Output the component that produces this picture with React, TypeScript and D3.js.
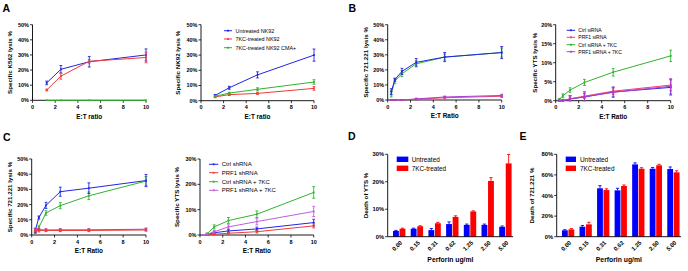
import React from "react";
import * as d3 from "d3";

// ---------- DATA ----------
const xA = [1.25, 2.5, 5, 10];
const xBC = [0.3125, 0.625, 1.25, 2.5, 5, 10];

const a1Untreated = [11.5, 20.5, 25.5, 30];
const a1UntreatedErr = [1.2, 2.5, 3.5, 4];
const a1Kc = [6.8, 16, 25.8, 28.3];
const a1KcErr = [0.6, 2, 1.2, 3.5];
const a1Cma = [0, 0, 0, 0];
const a1CmaErr = [0, 0, 0, 0];

const a2Untreated = [3.5, 8.5, 17, 30];
const a2UntreatedErr = [0.6, 1, 2, 4];
const a2Kc = [2.5, 4, 4.8, 8.1];
const a2KcErr = [0.5, 0.6, 0.7, 1.2];
const a2Cma = [3, 5, 7.5, 12.3];
const a2CmaErr = [0.5, 0.6, 1, 1.5];

const b1Ctrl = [5.5, 13.5, 19, 25, 28.5, 31.5];
const b1CtrlErr = [2, 1, 2, 2.5, 3, 4];
const b1Prf = [0, 0, 0, 0.5, 1.5, 2.5];
const b1PrfErr = [0.2, 0.2, 0.3, 0.5, 0.8, 0.8];
const b1Ctrl7 = [4, 12.5, 17.5, 24, 28.5, 31.5];
const b1Ctrl7Err = [2, 1.5, 2, 2, 2, 3];
const b1Prf7 = [0, 0, 0, 0.7, 2, 3];
const b1Prf7Err = [0.2, 0.2, 0.3, 0.5, 0.6, 0.8];

const b2Ctrl = [0, 0, 0.5, 1, 2.3, 3.5];
const b2CtrlErr = [0.2, 0.3, 0.8, 1, 1.3, 2];
const b2Prf = [0, 0, 0.5, 1.2, 2.5, 4.1];
const b2PrfErr = [0.2, 0.3, 0.5, 0.6, 0.8, 1.5];
const b2Ctrl7 = [0.3, 1.3, 2.8, 4.8, 7.5, 11.8];
const b2Ctrl7Err = [0.3, 0.5, 0.6, 0.8, 1, 1.5];
const b2Prf7 = [0, 0, 0.4, 1, 2.2, 3.8];
const b2Prf7Err = [0.2, 0.3, 1, 1.4, 1.3, 2];

const c1Ctrl = [3, 11.5, 19.5, 28.5, 30.8, 35.8];
const c1CtrlErr = [1.5, 1, 2, 3, 3.5, 4];
const c1Prf = [3, 3, 3, 3, 3, 3.3];
const c1PrfErr = [1, 1, 0.8, 0.8, 0.8, 0.8];
const c1Ctrl7 = [1.5, 5, 14.5, 19.3, 25.8, 35.5];
const c1Ctrl7Err = [0.5, 1, 1.5, 2, 2.5, 3];
const c1Prf7 = [3.2, 3.5, 3.3, 3.4, 3.4, 3.8];
const c1Prf7Err = [0.8, 0.8, 0.8, 0.8, 0.8, 0.8];

const c2Ctrl = [0, 0.2, 0.9, 1.6, 2.4, 4.9];
const c2CtrlErr = [0.1, 0.2, 0.4, 0.6, 0.7, 1.3];
const c2Prf = [0, 0, 0.3, 0.7, 1.3, 3.6];
const c2PrfErr = [0.1, 0.1, 0.2, 0.4, 0.5, 0.8];
const c2Ctrl7 = [0, 0.5, 3.2, 5.7, 8.2, 16.8];
const c2Ctrl7Err = [0.2, 0.3, 0.8, 1.2, 1.3, 2.3];
const c2Prf7 = [0, 0.3, 1.3, 3.2, 5.3, 9.3];
const c2Prf7Err = [0.1, 0.3, 0.5, 0.8, 1.3, 2];

const perforin = ["0.00", "0.15", "0.31", "0.62", "1.25", "2.50", "5.00"];
const dUntreated = [2.1, 2.9, 2.4, 4.6, 4.3, 4.3, 3.6];
const dUntreatedErr = [0.2, 0.2, 0.6, 0.8, 0.3, 0.3, 0.3];
const d7kc = [2.9, 3.8, 4.9, 7.2, 9.2, 20.3, 26.7];
const d7kcErr = [0.2, 0.2, 0.3, 0.4, 0.2, 1.2, 3.2];
const eUntreated = [6.2, 9.7, 47, 45, 70.2, 66, 65.7];
const eUntreatedErr = [0.6, 1.2, 2.5, 2, 1.5, 1.2, 2];
const e7kc = [7.1, 12, 45.3, 49.2, 66, 69.3, 62.5];
const e7kcErr = [0.8, 2, 1.2, 1, 1, 1, 1.5];

const xTicks = [0, 2, 4, 6, 8, 10];

const BLUE = "#2424e6";
const RED = "#f03a3a";
const GREEN = "#2fb52f";
const PURPLE = "#a83ed6";
const PINK = "#f0406e";
const FONT = "Liberation Sans, Arial, sans-serif";

type Series = { name: string; color: string; y: number[]; e: number[] };

type LineProps = {
  x0: number; x1: number; yTop: number; yBot: number;
  yMax: number; yStep: number; xs: number[]; series: Series[];
  yTitle: string; yTitleX: number; xTitle: string;
  legend?: { lx: number; lw: number; tx: number; rows: number[]; fs: number };
};

function LinePanel(p: LineProps) {
  const x = d3.scaleLinear().domain([0, 10]).range([p.x0, p.x1]);
  const y = d3.scaleLinear().domain([0, p.yMax]).range([p.yBot, p.yTop]);
  const yTicks = d3.range(0, p.yMax + 0.001, p.yStep);
  const cap = 1.4;
  return (
    <g>
      <line x1={p.x0} x2={p.x0} y1={p.yTop} y2={p.yBot} stroke="#000" strokeWidth={0.9} />
      <line x1={p.x0} x2={p.x1} y1={p.yBot} y2={p.yBot} stroke="#000" strokeWidth={0.9} />
      {yTicks.map((t) => (
        <g key={"y" + t}>
          <line x1={p.x0 - 2.5} x2={p.x0} y1={y(t)} y2={y(t)} stroke="#000" strokeWidth={0.8} />
          <text x={p.x0 - 3.5} y={y(t) + 1.9} fontSize={5.5} fontWeight="bold" textAnchor="end" fontFamily={FONT}>
            {t + "%"}
          </text>
        </g>
      ))}
      {xTicks.map((t) => (
        <g key={"x" + t}>
          <line x1={x(t)} x2={x(t)} y1={p.yBot} y2={p.yBot + 2.5} stroke="#000" strokeWidth={0.8} />
          <text x={x(t)} y={p.yBot + 8.6} fontSize={5.5} fontWeight="bold" textAnchor="middle" fontFamily={FONT}>
            {t}
          </text>
        </g>
      ))}
      <text
        transform={`translate(${p.yTitleX},${(p.yTop + p.yBot) / 2}) rotate(-90)`}
        fontSize={6.2} fontWeight="bold" textAnchor="middle" fontFamily={FONT}
      >
        {p.yTitle}
      </text>
      <text x={(p.x0 + p.x1) / 2} y={p.yBot + 18.3} fontSize={6.4} fontWeight="bold" textAnchor="middle" fontFamily={FONT}>
        {p.xTitle}
      </text>
      {p.series.map((s, si) => {
        const line = d3
          .line<number>()
          .x((_, i) => x(p.xs[i]))
          .y((d) => y(d));
        return (
          <g key={"s" + si}>
            <path d={line(s.y) || ""} fill="none" stroke={s.color} strokeWidth={1} />
            {s.y.map((v, i) => {
              const cx = x(p.xs[i]);
              const hi = y(v + s.e[i]);
              const lo = y(Math.max(0, v - s.e[i]));
              return (
                <g key={i}>
                  {s.e[i] > 0 && (
                    <>
                      <line x1={cx} x2={cx} y1={hi} y2={lo} stroke={s.color} strokeWidth={0.9} />
                      <line x1={cx - cap} x2={cx + cap} y1={hi} y2={hi} stroke={s.color} strokeWidth={0.9} />
                      <line x1={cx - cap} x2={cx + cap} y1={lo} y2={lo} stroke={s.color} strokeWidth={0.9} />
                    </>
                  )}
                  <rect x={cx - 0.9} y={y(v) - 0.9} width={1.8} height={1.8} fill={s.color} />
                </g>
              );
            })}
          </g>
        );
      })}
      {p.legend &&
        p.series.map((s, si) => {
          const L = p.legend!;
          const cy = L.rows[si];
          return (
            <g key={"l" + si}>
              <line x1={L.lx} x2={L.lx + L.lw} y1={cy} y2={cy} stroke={s.color} strokeWidth={1} />
              <rect x={L.lx + L.lw / 2 - 0.9} y={cy - 0.9} width={1.8} height={1.8} fill={s.color} />
              <text x={L.tx} y={cy + L.fs * 0.36} fontSize={L.fs} fontFamily={FONT}>
                {s.name}
              </text>
            </g>
          );
        })}
    </g>
  );
}

type BarProps = {
  x0: number; yTop: number; yBot: number; yMax: number; yStep: number;
  step: number; a: number[]; ae: number[]; b: number[]; be: number[];
  yTitle: string; yTitleX: number;
  legend: { sx: number; sw: number; tx: number; rows: number[] };
};

function BarPanel(p: BarProps) {
  const pi = 0.3;
  const po = 0.3;
  const n = perforin.length;
  const x = d3
    .scaleBand<string>()
    .domain(perforin)
    .range([p.x0, p.x0 + p.step * (n - pi + 2 * po)])
    .paddingInner(pi)
    .paddingOuter(po);
  const inner = d3.scaleBand<string>().domain(["a", "b"]).range([0, x.bandwidth()]).paddingInner(0.1);
  const y = d3.scaleLinear().domain([0, p.yMax]).range([p.yBot, p.yTop]);
  const yTicks = d3.range(0, p.yMax + 0.001, p.yStep);
  const xEnd = (x(perforin[n - 1]) || 0) + x.bandwidth() + 1.5;
  const groups = [
    { key: "a", vals: p.a, errs: p.ae, color: "#0000ff", name: "Untreated" },
    { key: "b", vals: p.b, errs: p.be, color: "#ff0000", name: "7KC-treated" },
  ];
  const cap = 1.6;
  return (
    <g>
      {groups.map((g) =>
        g.vals.map((v, i) => {
          const bx = (x(perforin[i]) || 0) + (inner(g.key) || 0);
          const bw = inner.bandwidth();
          const cx = bx + bw / 2;
          const top = y(v + g.errs[i]);
          return (
            <g key={g.key + i}>
              <line x1={cx} x2={cx} y1={y(v)} y2={top} stroke={g.color} strokeWidth={0.9} />
              <line x1={cx - cap} x2={cx + cap} y1={top} y2={top} stroke={g.color} strokeWidth={0.9} />
              <rect x={bx} y={y(v)} width={bw} height={p.yBot - y(v)} fill={g.color} />
            </g>
          );
        })
      )}
      <line x1={p.x0} x2={p.x0} y1={p.yTop} y2={p.yBot} stroke="#000" strokeWidth={0.9} />
      <line x1={p.x0} x2={xEnd} y1={p.yBot} y2={p.yBot} stroke="#000" strokeWidth={0.9} />
      {yTicks.map((t) => (
        <g key={"y" + t}>
          <line x1={p.x0 - 2.5} x2={p.x0} y1={y(t)} y2={y(t)} stroke="#000" strokeWidth={0.8} />
          <text x={p.x0 - 3.5} y={y(t) + 2} fontSize={5.8} fontWeight="bold" textAnchor="end" fontFamily={FONT}>
            {t + "%"}
          </text>
        </g>
      ))}
      {perforin.map((c) => {
        const cx = (x(c) || 0) + x.bandwidth() / 2;
        return (
          <text
            key={c}
            transform={`translate(${cx + 2},${p.yBot + 5}) rotate(-45)`}
            fontSize={5.9} fontWeight="bold" textAnchor="end" fontFamily={FONT} dy="0.35em"
          >
            {c}
          </text>
        );
      })}
      <text
        transform={`translate(${p.yTitleX},${(p.yTop + p.yBot) / 2}) rotate(-90)`}
        fontSize={6.2} fontWeight="bold" textAnchor="middle" fontFamily={FONT}
      >
        {p.yTitle}
      </text>
      <text x={(p.x0 + xEnd) / 2} y={p.yBot + 25.5} fontSize={6.8} fontWeight="bold" textAnchor="middle" fontFamily={FONT}>
        Perforin ug/ml
      </text>
      {groups.map((g, gi) => (
        <g key={"lg" + gi}>
          <rect x={p.legend.sx} y={p.legend.rows[gi] - 2.7} width={p.legend.sw} height={5.4} fill={g.color} />
          <text x={p.legend.tx} y={p.legend.rows[gi] + 2.3} fontSize={6.4} fontFamily={FONT}>
            {g.name}
          </text>
        </g>
      ))}
    </g>
  );
}

function Letter({ x, y, t }: { x: number; y: number; t: string }) {
  return (
    <text x={x} y={y} fontSize={10.5} fontWeight="bold" fontFamily={FONT}>
      {t}
    </text>
  );
}

export default function App() {
  return (
    <svg width={688} height={271} style={{ position: "absolute", left: 0, top: 0, background: "#fff" }}>
      <rect width={688} height={271} fill="#fff" />
      <Letter x={2.5} y={11.8} t="A" />
      <Letter x={348.5} y={11.8} t="B" />
      <Letter x={3} y={141} t="C" />
      <Letter x={348} y={140} t="D" />
      <Letter x={519.5} y={140} t="E" />

      <LinePanel
        x0={32.5} x1={146} yTop={24.7} yBot={100.3} yMax={50} yStep={10} xs={xA}
        yTitle="Specific K562 lysis %" yTitleX={12} xTitle="E:T ratio"
        series={[
          { name: "Untreated NK92", color: BLUE, y: a1Untreated, e: a1UntreatedErr },
          { name: "7KC-treated NK92", color: RED, y: a1Kc, e: a1KcErr },
          { name: "7KC-treated NK92 CMA+", color: GREEN, y: a1Cma, e: a1CmaErr },
        ]}
      />
      <LinePanel
        x0={201} x1={314} yTop={24.7} yBot={100.7} yMax={50} yStep={10} xs={xA}
        yTitle="Specific NK92 lysis %" yTitleX={179.5} xTitle="E:T ratio"
        legend={{ lx: 224, lw: 8, tx: 235.5, rows: [30.7, 39, 47.7], fs: 5.4 }}
        series={[
          { name: "Untreated NK92", color: BLUE, y: a2Untreated, e: a2UntreatedErr },
          { name: "7KC-treated NK92", color: RED, y: a2Kc, e: a2KcErr },
          { name: "7KC-treated NK92 CMA+", color: GREEN, y: a2Cma, e: a2CmaErr },
        ]}
      />
      <LinePanel
        x0={387.7} x1={501.7} yTop={24.7} yBot={100} yMax={50} yStep={10} xs={xBC}
        yTitle="Specific 721.221 lysis %" yTitleX={367.5} xTitle="E:T Ratio"
        series={[
          { name: "PRF1 siRNA", color: PINK, y: b1Prf, e: b1PrfErr },
          { name: "PRF1 siRNA + 7KC", color: PURPLE, y: b1Prf7, e: b1Prf7Err },
          { name: "Ctrl siRNA + 7KC", color: GREEN, y: b1Ctrl7, e: b1Ctrl7Err },
          { name: "Ctrl siRNA", color: BLUE, y: b1Ctrl, e: b1CtrlErr },
        ]}
      />
      <LinePanel
        x0={555.7} x1={670.7} yTop={24.7} yBot={100.7} yMax={20} yStep={5} xs={xBC}
        yTitle="Specific YTS lysis %" yTitleX={536.5} xTitle="E:T Ratio"
        legend={{ lx: 566.7, lw: 8.5, tx: 578.3, rows: [30.3, 37.3, 44.7, 51.7], fs: 5 }}
        series={[
          { name: "Ctrl siRNA", color: BLUE, y: b2Ctrl, e: b2CtrlErr },
          { name: "PRF1 siRNA", color: PINK, y: b2Prf, e: b2PrfErr },
          { name: "Ctrl siRNA + 7KC", color: GREEN, y: b2Ctrl7, e: b2Ctrl7Err },
          { name: "PRF1 siRNA + 7KC", color: PURPLE, y: b2Prf7, e: b2Prf7Err },
        ]}
      />
      <LinePanel
        x0={31.7} x1={146} yTop={159} yBot={235} yMax={50} yStep={10} xs={xBC}
        yTitle="Specific 721.221 lysis %" yTitleX={12} xTitle="E:T Ratio"
        series={[
          { name: "Ctrl shRNA + 7KC", color: GREEN, y: c1Ctrl7, e: c1Ctrl7Err },
          { name: "Ctrl shRNA", color: BLUE, y: c1Ctrl, e: c1CtrlErr },
          { name: "PRF1 shRNA + 7KC", color: PURPLE, y: c1Prf7, e: c1Prf7Err },
          { name: "PRF1 shRNA", color: RED, y: c1Prf, e: c1PrfErr },
        ]}
      />
      <LinePanel
        x0={200} x1={313.7} yTop={159} yBot={235} yMax={30} yStep={10} xs={xBC}
        yTitle="Specific YTS lysis %" yTitleX={179} xTitle="E:T Ratio"
        legend={{ lx: 209, lw: 9.3, tx: 221.7, rows: [164.3, 172.7, 181.7, 190.3], fs: 6 }}
        series={[
          { name: "Ctrl shRNA", color: BLUE, y: c2Ctrl, e: c2CtrlErr },
          { name: "PRF1 shRNA", color: RED, y: c2Prf, e: c2PrfErr },
          { name: "Ctrl shRNA + 7KC", color: GREEN, y: c2Ctrl7, e: c2Ctrl7Err },
          { name: "PRF1 shRNA + 7KC", color: "#c05ee0", y: c2Prf7, e: c2Prf7Err },
        ]}
      />
      <BarPanel
        x0={387.7} yTop={154.3} yBot={236.7} yMax={30} yStep={10} step={17.7}
        a={dUntreated} ae={dUntreatedErr} b={d7kc} be={d7kcErr}
        yTitle="Death of YTS %" yTitleX={367.5}
        legend={{ sx: 396.7, sw: 11.6, tx: 411.7, rows: [159.3, 168.3] }}
      />
      <BarPanel
        x0={556.7} yTop={154.3} yBot={236.7} yMax={80} yStep={20} step={17.55}
        a={eUntreated} ae={eUntreatedErr} b={e7kc} be={e7kcErr}
        yTitle="Death of 721.221 %" yTitleX={534}
        legend={{ sx: 565.7, sw: 10.3, tx: 580, rows: [159.3, 168.3] }}
      />
    </svg>
  );
}
